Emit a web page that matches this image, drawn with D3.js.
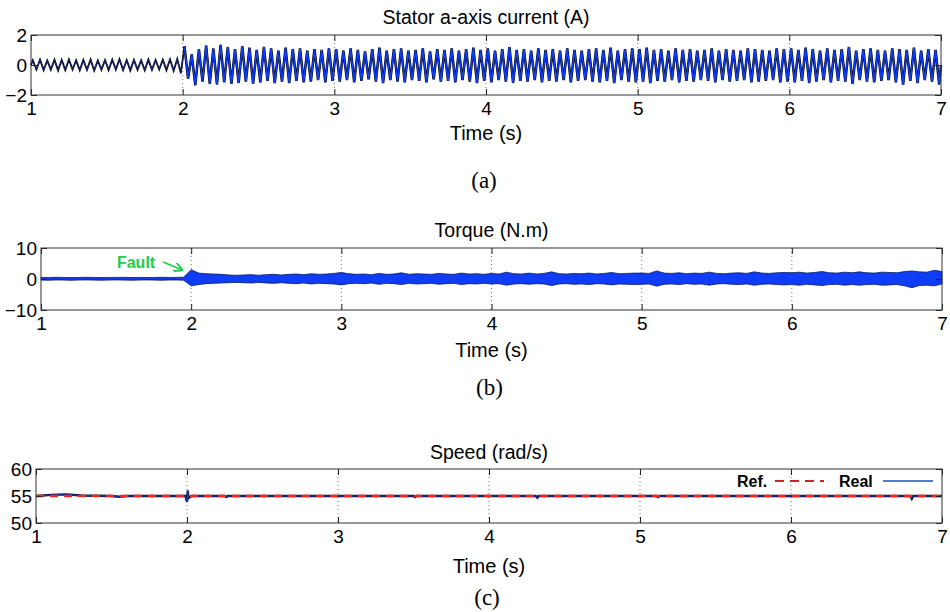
<!DOCTYPE html>
<html><head><meta charset="utf-8">
<script src="https://cdn.jsdelivr.net/npm/d3@7"></script>
<style>body{margin:0;background:#fff}svg{display:block}</style>
</head><body><svg id="c" width="950" height="612"></svg>
<script>
// ---------- DATA ----------
const xTicks = [1,2,3,4,5,6,7];
const currentTicks = [-2,0,2];
const torqueTicks = [-10,0,10];
const speedTicks = [50,55,60];
const cyclesPerSecond = 21; // electrical cycles per second

// Stator a-axis current: peak (upper) and trough (lower) of each cycle, 1 s .. 7 s
const currentUpper = [
 0.32,0.36,0.30,0.35,0.33,0.37,0.31,0.34,0.36,0.30,0.33,0.35,0.38,0.32,0.34,0.31,0.36,0.33,0.35,0.38,0.40,
 1.25,0.70,1.05,1.30,1.10,1.35,1.20,1.05,1.25,1.15,1.00,1.20,1.10,0.95,1.15,1.05,1.10,0.95,1.05,1.00,1.10,
 1.05,0.95,1.10,1.00,0.90,1.05,1.15,0.95,1.05,1.10,0.95,1.00,1.10,0.90,1.05,1.00,1.10,0.95,1.05,1.15,1.00,
 1.10,0.95,1.05,1.20,1.00,1.05,0.95,1.10,1.00,1.05,0.95,1.10,1.00,0.95,1.05,1.10,1.00,1.15,0.95,1.05,1.10,
 1.05,1.15,1.00,1.05,0.95,1.10,1.00,1.05,0.95,1.00,1.10,0.95,1.05,1.00,0.95,1.10,1.05,1.00,0.95,1.10,1.05,
 1.10,1.00,1.15,1.05,0.95,1.10,1.00,1.05,1.20,0.95,1.05,1.10,1.00,0.95,1.10,1.05,1.00,1.15,0.95,1.05,1.00];
const currentLower = [
 -0.30,-0.34,-0.31,-0.36,-0.33,-0.30,-0.35,-0.32,-0.37,-0.31,-0.34,-0.30,-0.33,-0.36,-0.31,-0.35,-0.32,-0.30,-0.34,-0.38,-0.55,
 -0.90,-1.35,-1.10,-1.25,-1.30,-1.15,-1.25,-1.20,-1.10,-1.25,-1.15,-1.05,-1.20,-1.10,-1.20,-1.05,-1.15,-1.10,-1.00,-1.15,-1.05,
 -1.10,-1.00,-1.15,-1.05,-0.95,-1.10,-1.20,-1.00,-1.10,-1.15,-1.00,-1.05,-1.15,-0.95,-1.10,-1.05,-1.15,-1.00,-1.10,-1.20,-1.05,
 -1.15,-1.00,-1.10,-1.20,-1.05,-1.10,-1.00,-1.15,-1.05,-1.10,-1.00,-1.15,-1.05,-1.00,-1.10,-1.15,-1.05,-1.20,-1.00,-1.10,-1.15,
 -1.10,-1.20,-1.05,-1.10,-1.00,-1.15,-1.05,-1.10,-1.00,-1.05,-1.15,-1.00,-1.10,-1.05,-1.00,-1.15,-1.10,-1.05,-1.00,-1.15,-1.10,
 -1.15,-1.05,-1.20,-1.10,-1.00,-1.15,-1.05,-1.10,-1.25,-1.00,-1.10,-1.15,-1.05,-1.00,-1.15,-1.30,-1.05,-1.20,-1.00,-1.10,-1.30];

// Torque: upper / lower envelope of the band, every 0.05 s from 1 s to 7 s
const torqueStep = 0.05;
const torqueUpper = [
 0.5,0.45,0.55,0.5,0.45,0.5,0.55,0.5,0.45,0.5,0.5,0.55,0.45,0.5,0.5,0.45,0.55,0.5,0.5,0.6,
 3.0,1.9,1.7,1.6,1.5,1.3,1.2,1.3,1.4,1.2,1.4,1.5,1.3,1.5,1.6,1.4,1.7,1.5,1.6,1.8,
 2.1,1.7,1.5,1.6,1.4,1.8,1.5,1.6,2.0,1.5,1.7,1.6,1.5,1.8,1.6,1.5,1.9,1.6,1.7,1.5,
 1.8,1.6,2.2,1.7,1.6,1.9,1.6,1.8,2.3,1.7,1.6,1.8,1.7,1.9,1.6,1.8,2.1,1.7,1.8,1.9,
 1.9,1.8,2.6,1.9,1.8,2.0,1.7,1.9,1.8,2.2,1.8,1.7,1.9,2.0,1.8,2.3,1.9,1.8,2.0,2.1,
 2.0,2.2,1.9,2.1,2.4,2.0,1.9,2.2,2.0,2.3,2.0,1.9,2.2,2.1,2.0,2.4,2.6,2.3,2.2,2.8,
 2.4];
const torqueLower = [
 -0.35,-0.4,-0.3,-0.35,-0.4,-0.35,-0.3,-0.35,-0.4,-0.35,-0.3,-0.35,-0.4,-0.35,-0.3,-0.35,-0.4,-0.35,-0.3,-0.4,
 -2.2,-1.8,-1.5,-1.4,-1.3,-1.2,-1.1,-1.2,-1.3,-1.1,-1.3,-1.4,-1.2,-1.4,-1.5,-1.3,-1.6,-1.4,-1.5,-1.6,
 -1.9,-1.5,-1.4,-1.5,-1.3,-1.7,-1.4,-1.5,-1.8,-1.4,-1.6,-1.5,-1.4,-1.7,-1.5,-1.4,-1.8,-1.5,-1.6,-1.4,
 -1.6,-1.5,-2.0,-1.6,-1.5,-1.7,-1.5,-1.6,-2.1,-1.6,-1.5,-1.7,-1.6,-1.8,-1.5,-1.6,-1.9,-1.6,-1.7,-1.8,
 -1.7,-1.6,-2.3,-1.7,-1.6,-1.8,-1.5,-1.7,-1.6,-2.0,-1.6,-1.5,-1.7,-1.8,-1.6,-2.0,-1.7,-1.6,-1.8,-1.9,
 -1.8,-2.0,-1.7,-1.9,-2.1,-1.8,-1.7,-2.0,-1.8,-2.0,-1.8,-1.7,-2.0,-1.9,-1.8,-2.2,-2.8,-2.1,-2.0,-2.2,
 -1.6];

// Speed
const speedRefTime = [1,7];
const speedRef = [55,55];
const speedTime = [1.00,1.10,1.20,1.30,1.50,1.55,1.60,1.99,2.00,2.005,2.01,2.03,2.25,2.26,2.27,
 3.50,3.51,3.52,4.31,4.32,4.33,5.11,5.12,5.13,6.79,6.80,6.81,7.00];
const speedReal = [55.0,55.2,55.3,55.1,55.0,54.85,55.0,55.0,53.9,56.0,54.6,55.0,55.0,54.8,55.0,
 55.0,54.8,55.0,55.0,54.7,55.0,55.0,54.8,55.0,55.0,54.5,55.0,55.0];

// ---------- DRAW ----------
const svg = d3.select("#c");
const FONT = "Arial, 'Liberation Sans', sans-serif";
const BLUE = "#0f3cf5";

function panel(o){
  const x = d3.scaleLinear().domain([1,7]).range([o.x0,o.x1]);
  const y = d3.scaleLinear().domain(o.yDomain).range([o.y1,o.y0]);
  const g = svg.append("g");
  g.selectAll(".grid").data(xTicks.slice(1,-1)).enter().append("line")
    .attr("x1",d=>x(d)).attr("x2",d=>x(d)).attr("y1",o.y0).attr("y2",o.y1)
    .attr("stroke","#777").attr("stroke-width",1).attr("stroke-dasharray","1,3");
  const plot = g.append("g");
  const ax = (gen, tr, labels) => {
    const a = g.append("g").attr("transform",tr)
      .call(gen.tickSizeInner(-6).tickSizeOuter(0).tickPadding(labels?7:0).tickFormat(labels?d3.format("d"):""));
    a.select(".domain").remove();
    a.selectAll("line").attr("stroke","#222");
    a.selectAll("text").attr("font-family",FONT).attr("font-size",19).attr("fill","#000");
    return a;
  };
  ax(d3.axisBottom(x).tickValues(xTicks),`translate(0,${o.y1})`,true);
  ax(d3.axisTop(x).tickValues(xTicks),`translate(0,${o.y0})`,false);
  const ya = ax(d3.axisLeft(y).tickValues(o.yTicks),`translate(${o.x0},0)`,true);
  ya.selectAll("text").attr("dx",3);
  ax(d3.axisRight(y).tickValues(o.yTicks),`translate(${o.x1},0)`,false);
  g.append("rect").attr("x",o.x0).attr("y",o.y0).attr("width",o.x1-o.x0).attr("height",o.y1-o.y0)
    .attr("fill","none").attr("stroke","#333").attr("stroke-width",1);
  const cx = (o.x0+o.x1)/2;
  g.append("text").attr("x",cx).attr("y",o.titleY).attr("text-anchor","middle")
    .attr("font-family",FONT).attr("font-size",19.5).text(o.title);
  g.append("text").attr("x",cx).attr("y",o.xlabY).attr("text-anchor","middle")
    .attr("font-family",FONT).attr("font-size",20).text("Time (s)");
  g.append("text").attr("x",cx-2).attr("y",o.capY).attr("text-anchor","middle")
    .attr("font-family","'Times New Roman','Liberation Serif',serif").attr("font-size",23).text(o.cap);
  return {x,y,plot};
}

// (a) current
const A = panel({x0:31,x1:941,y0:35,y1:95,yDomain:[-2,2],yTicks:currentTicks,
  title:"Stator a-axis current (A)",titleY:24,xlabY:140,capY:188,cap:"(a)"});
const T = 1/cyclesPerSecond;
const curPts = [[1,0]];
currentUpper.forEach((u,i)=>{
  const t0 = 1 + i*T;
  curPts.push([t0+0.25*T,u]);
  curPts.push([t0+0.75*T,currentLower[i]]);
});
curPts.push([7,0]);
const preN = cyclesPerSecond*2+1;
const pre = curPts.slice(0,preN+1), post = curPts.slice(preN);
const lineA = d3.line().x(d=>A.x(d[0])).y(d=>A.y(d[1]));
A.plot.append("path").attr("d",lineA(pre)).attr("fill","none").attr("stroke","#000").attr("stroke-width",1.8);
A.plot.append("path").attr("d",lineA(pre)).attr("fill","none").attr("stroke","#1b2c8a").attr("stroke-width",0.9);
A.plot.append("path").attr("d",lineA(post)).attr("fill","none").attr("stroke","#000").attr("stroke-width",2.5);
A.plot.append("path").attr("d",lineA(post)).attr("fill","none").attr("stroke",BLUE).attr("stroke-width",1.6);

// (b) torque
const B = panel({x0:41,x1:942,y0:248,y1:310,yDomain:[-10,10],yTicks:torqueTicks,
  title:"Torque (N.m)",titleY:237,xlabY:357,capY:395,cap:"(b)"});
const tq = torqueUpper.map((u,i)=>({t:1+i*torqueStep,u,l:torqueLower[i]}));
B.plot.append("path").datum(tq)
  .attr("d",d3.area().x(d=>B.x(d.t)).y0(d=>B.y(d.l)).y1(d=>B.y(d.u)))
  .attr("fill",BLUE).attr("stroke","#0a1a60").attr("stroke-width",0.8);

// fault annotation
const fx = B.x(2), fy = B.y(0);
svg.append("text").attr("x",fx-36).attr("y",fy-11).attr("text-anchor","end")
  .attr("font-family",FONT).attr("font-weight","bold").attr("font-size",16).attr("fill","#1fcc45").text("Fault");
svg.append("defs").append("marker").attr("id","ah").attr("viewBox","0 0 10 10").attr("refX",9).attr("refY",5)
  .attr("markerWidth",6).attr("markerHeight",6).attr("orient","auto")
  .append("path").attr("d","M0,0 L10,5 L0,10").attr("fill","none").attr("stroke","#1fcc45").attr("stroke-width",2);
svg.append("line").attr("x1",fx-28).attr("y1",fy-17).attr("x2",fx-9).attr("y2",fy-9)
  .attr("stroke","#1fcc45").attr("stroke-width",1.5).attr("marker-end","url(#ah)");

// (c) speed
const C = panel({x0:36,x1:942,y0:469,y1:523,yDomain:[50,60],yTicks:speedTicks,
  title:"Speed (rad/s)",titleY:459,xlabY:573,capY:605,cap:"(c)"});
const lineC = d3.line().x(d=>C.x(d[0])).y(d=>C.y(d[1]));
const realPts = speedTime.map((t,i)=>[t,speedReal[i]]);
C.plot.append("path").attr("d",lineC(realPts)).attr("fill","none").attr("stroke","#0d1440").attr("stroke-width",2.4);
C.plot.append("path").attr("d",lineC(realPts)).attr("fill","none").attr("stroke","#1f3fb0").attr("stroke-width",0.8);
const refPts = speedRefTime.map((t,i)=>[t,speedRef[i]]);
C.plot.append("path").attr("d",lineC(refPts)).attr("fill","none").attr("stroke","#ee2a1f").attr("stroke-width",2.6)
  .attr("stroke-dasharray","8,6");
// legend
const ly = 481;
svg.append("text").attr("x",737).attr("y",ly+6).attr("font-family",FONT).attr("font-weight","bold").attr("font-size",16).text("Ref.");
svg.append("line").attr("x1",775).attr("x2",824).attr("y1",ly).attr("y2",ly).attr("stroke","#c0282a").attr("stroke-width",2).attr("stroke-dasharray","9,6");
svg.append("text").attr("x",839).attr("y",ly+6).attr("font-family",FONT).attr("font-weight","bold").attr("font-size",16).text("Real");
svg.append("line").attr("x1",883).attr("x2",933).attr("y1",ly).attr("y2",ly).attr("stroke","#1f4fc0").attr("stroke-width",1.5);
</script></body></html>
